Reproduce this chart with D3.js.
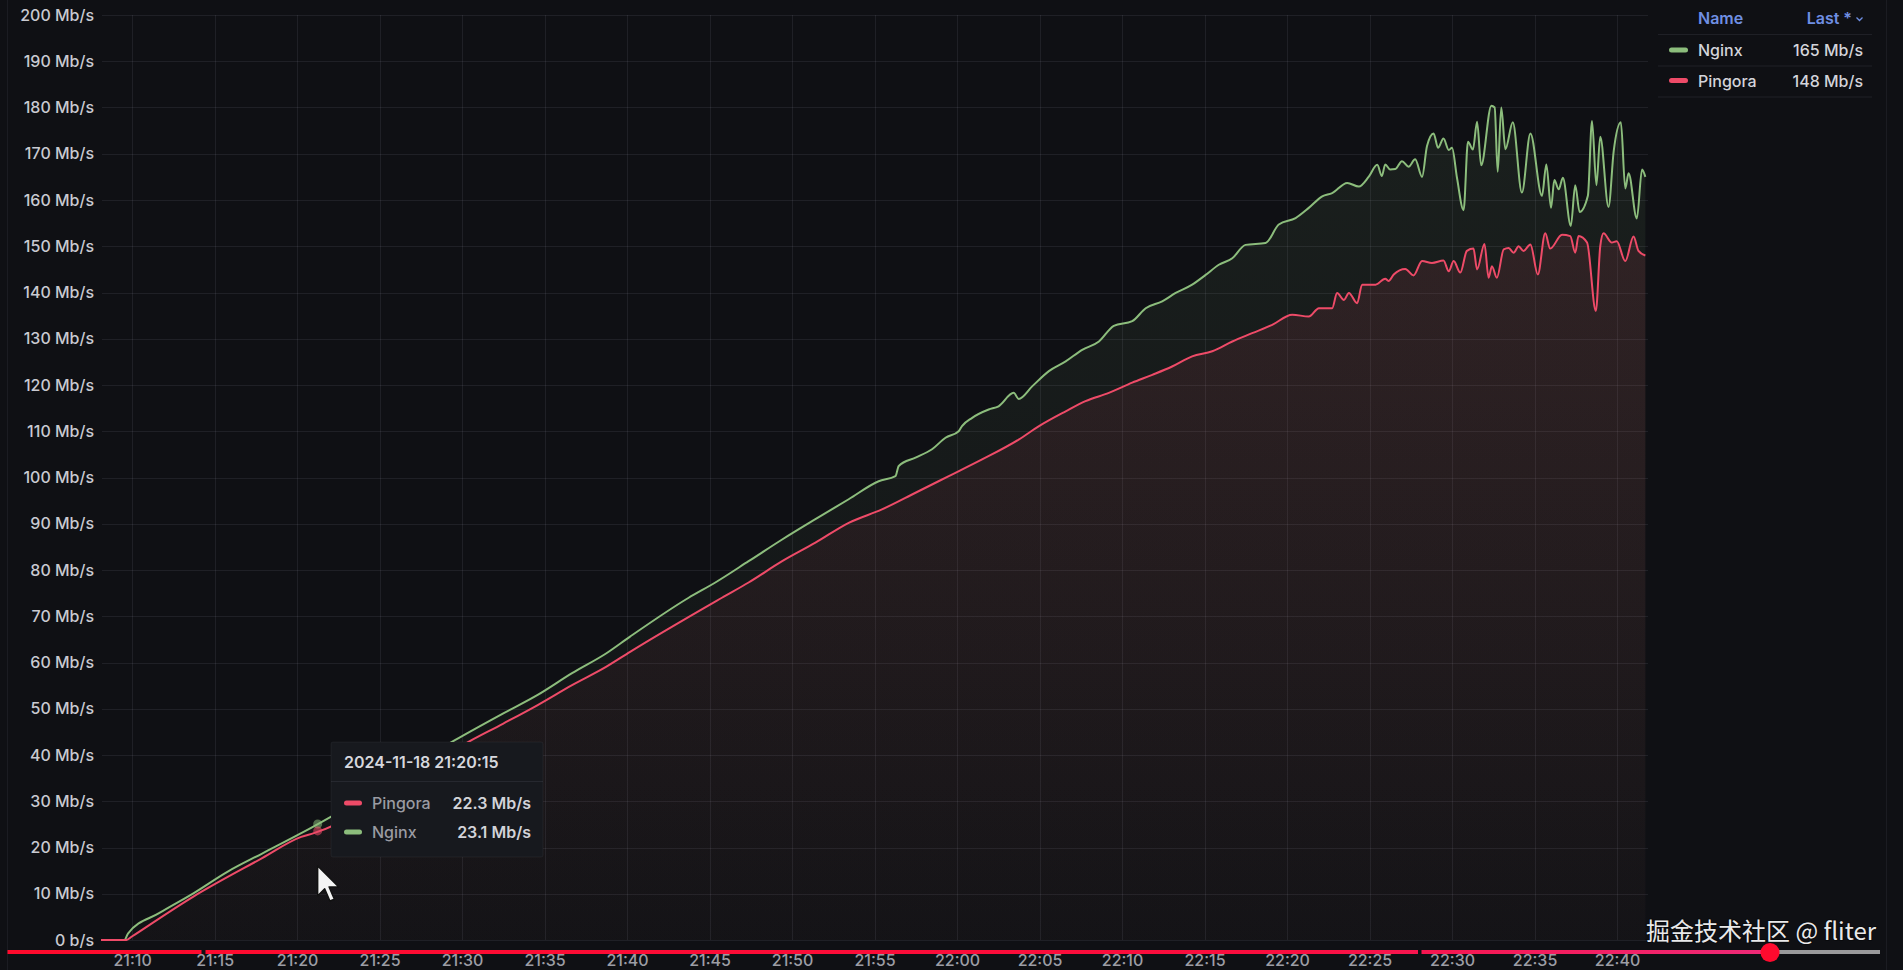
<!DOCTYPE html>
<html><head><meta charset="utf-8">
<script src="https://cdn.jsdelivr.net/npm/d3@7"></script>
<style>
html,body{margin:0;padding:0;background:#0f1014;overflow:hidden}
svg{display:block;font-family:Inter,"Noto Sans",sans-serif}
</style></head><body><svg id="c" width="1903" height="970"></svg>
<script>
const nginxTimes = ["21:08:07","21:09:32","21:09:45","21:11:38","21:13:43","21:15:48","21:17:53","21:20:15","21:22:04","21:29:34","21:32:30","21:34:35","21:36:40","21:38:45","21:40:11","21:43:44","21:45:21","21:47:22","21:49:24","21:51:25","21:53:26","21:55:15","21:56:16","21:56:28","21:57:29","21:58:29","21:59:18","22:00:06","22:00:18","22:00:55","22:01:55","22:02:31","22:03:26","22:03:44","22:04:33","22:05:34","22:06:35","22:07:35","22:08:36","22:09:30","22:10:37","22:11:26","22:12:26","22:13:15","22:14:15","22:15:04","22:15:52","22:16:41","22:17:29","22:18:42","22:19:30","22:20:31","22:21:19","22:22:08","22:22:44","22:23:39","22:24:21","22:24:58","22:25:28","22:25:45","22:25:57","22:26:15","22:26:34","22:26:58","22:27:22","22:27:46","22:28:11","22:28:29","22:28:53","22:29:09","22:29:29","22:29:48","22:30:00","22:30:18","22:30:42","22:30:58","22:31:16","22:31:31","22:31:46","22:32:23","22:32:35","22:32:46","22:32:59","22:33:14","22:33:41","22:34:14","22:34:45","22:35:27","22:35:43","22:36:00","22:36:12","22:36:28","22:36:43","22:37:12","22:37:28","22:37:44","22:38:14","22:38:29","22:38:45","22:38:59","22:39:29","22:39:48","22:40:14","22:40:30","22:40:42","22:41:12","22:41:31","22:41:43"];
const nginxValues = [0,0,1.4,5.8,10.1,14.8,18.7,23.1,26.7,43.2,49.0,53.0,57.7,62.0,65.6,74.0,77.3,81.9,86.6,91.0,95.3,99.2,100.3,102.5,104.3,106.1,108.6,110.0,111.1,112.9,114.7,115.4,118.3,117.0,119.7,123.0,125.1,127.6,129.4,132.8,133.8,136.6,138.1,139.9,141.7,143.8,146.0,147.4,150.3,150.7,154.7,156.1,158.3,160.8,161.5,163.7,162.9,165.1,167.6,165.2,167.7,166.6,166.7,168.4,167.2,168.8,165.0,171.7,174.4,171.3,173.3,170.8,171.3,164.8,157.8,172.6,170.9,176.9,167.5,180.4,180.0,166.1,180.0,171.0,176.8,161.6,174.4,160.9,167.7,158.3,164.3,162.3,164.8,154.4,163.2,157.4,160.9,177.1,163.2,173.7,158.5,170.6,176.8,162.5,165.8,156.0,166.6,165.0];
const pingoraTimes = ["21:08:07","21:09:40","21:09:58","21:13:43","21:17:53","21:20:15","21:21:01","21:30:25","21:32:30","21:34:35","21:36:40","21:38:45","21:40:11","21:45:45","21:47:22","21:49:24","21:51:25","21:53:26","21:55:27","21:57:29","21:59:30","22:01:31","22:03:44","22:04:58","22:06:35","22:07:47","22:09:12","22:10:37","22:11:50","22:13:02","22:14:15","22:15:28","22:16:41","22:17:53","22:19:06","22:20:19","22:21:19","22:21:56","22:22:44","22:23:02","22:23:27","22:23:45","22:24:15","22:24:33","22:25:22","22:25:57","22:26:09","22:26:28","22:27:10","22:27:40","22:28:11","22:28:47","22:29:29","22:29:48","22:30:06","22:30:30","22:30:54","22:31:18","22:31:31","22:31:58","22:32:13","22:32:25","22:32:43","22:33:08","22:33:26","22:33:44","22:34:02","22:34:20","22:34:45","22:35:12","22:35:39","22:35:57","22:36:40","22:37:10","22:37:28","22:37:40","22:38:11","22:38:43","22:38:59","22:39:11","22:39:41","22:39:59","22:40:30","22:41:00","22:41:18","22:41:43"];
const pingoraValues = [0,0,0.7,9.4,17.7,22.3,23.1,42.9,46.8,50.8,55.1,59.1,62.3,74.0,77.3,81.9,85.9,90.2,93.1,96.7,100.3,103.9,108.2,111.1,114.3,116.5,118.3,120.5,122.2,124.0,126.2,127.3,129.4,131.2,133.0,135.2,134.8,136.6,136.6,139.9,138.4,139.9,137.7,141.7,141.7,143.0,142.5,143.9,145.1,143.7,146.8,146.4,146.9,144.6,146.8,144.3,149.0,149.5,145.0,150.5,143.2,145.7,143.2,149.3,149.6,148.6,150.0,149.0,150.4,143.9,152.8,149.5,152.5,152.2,148.6,152.2,150.8,136.0,150.0,152.8,150.8,151.1,146.8,152.1,149.0,148.0];
const yTickValues = [0,10,20,30,40,50,60,70,80,90,100,110,120,130,140,150,160,170,180,190,200];
const xTickLabels = ["21:10","21:15","21:20","21:25","21:30","21:35","21:40","21:45","21:50","21:55","22:00","22:05","22:10","22:15","22:20","22:25","22:30","22:35","22:40"];
const timeDomain = ["21:08:07","22:41:49"];
const seriesNames = ["Nginx","Pingora"];
const seriesColors = ["#8cbd7c","#ee4b68"];
const legendLast = ["165 Mb/s","148 Mb/s"];
const tooltipTitle = "2024-11-18 21:20:15";
const tooltipNames = ["Pingora","Nginx"];
const tooltipValues = ["22.3 Mb/s","23.1 Mb/s"];
const hoverTime = "21:21:15";
const watermark = "掘金技术社区 @ fliter";

const day = "2024-11-18 ";
const parse = d3.timeParse("%Y-%m-%d %H:%M:%S");
const pt = s => parse(day + (s.length === 5 ? s + ":00" : s));

const svg = d3.select("#c");
const W = 1903, H = 970;
svg.append("rect").attr("width",W).attr("height",H).attr("fill","#0f1014");

const x = d3.scaleTime().domain(timeDomain.map(pt)).range([101,1647]);
const y = d3.scaleLinear().domain([0,200]).range([940,15]);

const defs = svg.append("defs");
defs.append("clipPath").attr("id","plot").append("rect").attr("x",101).attr("y",10).attr("width",1547).attr("height",931);

// panel borders
svg.append("line").attr("x1",7.5).attr("x2",7.5).attr("y1",0).attr("y2",H).attr("stroke","rgba(204,204,220,0.07)");
svg.append("line").attr("x1",1886.5).attr("x2",1886.5).attr("y1",0).attr("y2",H).attr("stroke","rgba(204,204,220,0.07)");

// grid
const grid = svg.append("g").attr("stroke","rgba(204,204,220,0.09)").attr("stroke-width",1);
grid.selectAll(".h").data(yTickValues).join("line")
  .attr("x1",102).attr("x2",1648)
  .attr("y1",d=>Math.round(y(d))+0.5).attr("y2",d=>Math.round(y(d))+0.5);
grid.selectAll(".v").data(xTickLabels).join("line")
  .attr("x1",d=>Math.round(x(pt(d)))+0.5).attr("x2",d=>Math.round(x(pt(d)))+0.5)
  .attr("y1",y(200)).attr("y2",y(0));

// y axis
const yAxis = d3.axisLeft(y).tickValues(yTickValues).tickSize(0).tickPadding(0)
  .tickFormat(d => d === 0 ? "0 b/s" : d + " Mb/s");
const ya = svg.append("g").attr("transform","translate(94,0)").call(yAxis);
ya.select(".domain").remove();
ya.selectAll("text").attr("font-family","Inter").attr("font-size",16).attr("font-weight",500).attr("fill","#c9cad1");

// x axis
const xAxis = d3.axisBottom(x).tickValues(xTickLabels.map(pt)).tickSize(0).tickPadding(0)
  .tickFormat((d,i)=>xTickLabels[i]);
const xa = svg.append("g").attr("transform","translate(0,955)").call(xAxis);
xa.select(".domain").remove();
xa.selectAll("text").attr("font-family","Inter").attr("font-size",16).attr("font-weight",500).attr("fill","#9c9da4").attr("dy","0.71em");

// series
const series = [
  {name:seriesNames[0], color:seriesColors[0], data:nginxTimes.map((t,i)=>({t:pt(t),v:nginxValues[i]})), top:0.09},
  {name:seriesNames[1], color:seriesColors[1], data:pingoraTimes.map((t,i)=>({t:pt(t),v:pingoraValues[i]})), top:0.11}
];
const curve = d3.curveMonotoneX;
const area = d3.area().x(d=>x(d.t)).y0(y(0)).y1(d=>y(d.v)).curve(curve);
const line = d3.line().x(d=>x(d.t)).y(d=>y(d.v)).curve(curve);
const plot = svg.append("g").attr("clip-path","url(#plot)");
series.forEach((s,i)=>{
  const mx = d3.max(s.data,d=>d.v);
  const g = defs.append("linearGradient").attr("id","fill"+i).attr("gradientUnits","userSpaceOnUse")
    .attr("x1",0).attr("x2",0).attr("y1",y(mx)).attr("y2",y(0));
  g.append("stop").attr("offset",0).attr("stop-color",s.color).attr("stop-opacity",s.top);
  g.append("stop").attr("offset",1).attr("stop-color",s.color).attr("stop-opacity",0.015);
  plot.append("path").datum(s.data).attr("d",area).attr("fill","url(#fill"+i+")");
});
series.forEach(s=>{
  plot.append("path").datum(s.data).attr("d",line).attr("fill","none").attr("stroke",s.color)
    .attr("stroke-width",2).attr("stroke-linejoin","round");
});

// hover dots
function valueAt(data,t){
  const i = d3.bisector(d=>d.t).left(data,t);
  const a = data[Math.max(0,i-1)], b = data[Math.min(data.length-1,i)];
  if (a===b) return a.v;
  const f = (t-a.t)/(b.t-a.t);
  return a.v + f*(b.v-a.v);
}
const ht = pt(hoverTime);
series.forEach(s=>{
  svg.append("circle").attr("cx",x(ht)).attr("cy",y(valueAt(s.data,ht))).attr("r",4.5)
    .attr("fill",s.color).attr("fill-opacity",0.55);
});

// tooltip
const tt = svg.append("g");
tt.append("rect").attr("x",331).attr("y",742).attr("width",212).attr("height",115).attr("rx",2)
  .attr("fill","#17191e").attr("stroke","rgba(204,204,220,0.06)");
tt.append("text").attr("x",344).attr("y",768).text(tooltipTitle)
  .attr("font-size",16).attr("font-weight",600).attr("fill","#d6d7dd");
tt.append("line").attr("x1",331).attr("x2",543).attr("y1",781.5).attr("y2",781.5).attr("stroke","rgba(204,204,220,0.09)");
tooltipNames.forEach((n,i)=>{
  const cy = 803 + i*29;
  const col = seriesColors[seriesNames.indexOf(n)];
  tt.append("rect").attr("x",344).attr("y",cy-2.5).attr("width",18).attr("height",5).attr("rx",2.5).attr("fill",col);
  tt.append("text").attr("x",372).attr("y",cy+6).text(n).attr("font-size",16).attr("font-weight",500).attr("fill","#9a9ba2");
  tt.append("text").attr("x",531).attr("y",cy+6).attr("text-anchor","end").text(tooltipValues[i])
    .attr("font-size",16).attr("font-weight",600).attr("fill","#d2d3d9");
});

// mouse cursor
const cx0 = x(ht), cy0 = 866, k = 1.75;
svg.append("path")
  .attr("d",`M0,0 L0,17 L4,13 L7,20 L9.5,19 L6.5,12 L12,12 Z`)
  .attr("transform",`translate(${cx0},${cy0}) scale(${k})`)
  .attr("fill","#f4f4f4").attr("stroke","#111").attr("stroke-width",0.8).attr("stroke-linejoin","round");

// legend
const lg = svg.append("g");
lg.append("text").attr("x",1698).attr("y",24).text("Name").attr("font-size",16).attr("font-weight",600).attr("fill","#6f8fe3");
lg.append("text").attr("x",1852).attr("y",24).attr("text-anchor","end").text("Last *").attr("font-size",16).attr("font-weight",600).attr("fill","#6f8fe3");
lg.append("path").attr("d","M1856.5,17.5 L1859.5,20.5 L1862.5,17.5").attr("fill","none").attr("stroke","#6f8fe3").attr("stroke-width",1.3);
[34.5,66,97].forEach(yy=>{
  lg.append("line").attr("x1",1658).attr("x2",1872).attr("y1",yy).attr("y2",yy).attr("stroke","rgba(204,204,220,0.09)");
});
seriesNames.forEach((n,i)=>{
  const cy = 50 + i*30.5;
  lg.append("rect").attr("x",1669).attr("y",cy-2.5).attr("width",19).attr("height",5).attr("rx",2.5).attr("fill",seriesColors[i]);
  lg.append("text").attr("x",1698).attr("y",cy+6).text(n).attr("font-size",16).attr("font-weight",500).attr("fill","#d3d4da");
  lg.append("text").attr("x",1863).attr("y",cy+6).attr("text-anchor","end").text(legendLast[i]).attr("font-size",16).attr("font-weight",500).attr("fill","#d3d4da");
});

// watermark
svg.append("text").attr("x",1876).attr("y",940).attr("text-anchor","end").text(watermark)
  .attr("font-family","'Noto Sans CJK SC','Noto Sans',sans-serif").attr("font-size",24).attr("font-weight",400)
  .attr("fill","#e9e9ea").attr("stroke","rgba(0,0,0,0.35)").attr("stroke-width",2).attr("paint-order","stroke");

// progress bar
const pg = defs.append("linearGradient").attr("id","prog").attr("gradientUnits","userSpaceOnUse")
  .attr("x1",7).attr("x2",1770).attr("y1",0).attr("y2",0);
pg.append("stop").attr("offset",0).attr("stop-color","#ff0a2c");
pg.append("stop").attr("offset",0.72).attr("stop-color","#fa0d3e");
pg.append("stop").attr("offset",1).attr("stop-color","#ee2a78");
svg.append("rect").attr("x",1770).attr("y",950).attr("width",110).attr("height",4).attr("fill","#9a9a9c");
[[7.5,201.5],[205.5,1418],[1421.5,1770]].forEach(([a,b])=>{
  svg.append("rect").attr("x",a).attr("y",950).attr("width",b-a).attr("height",4).attr("fill","url(#prog)");
});
svg.append("circle").attr("cx",1770).attr("cy",952.5).attr("r",9.5).attr("fill","#ff0a2e");
</script></body></html>
